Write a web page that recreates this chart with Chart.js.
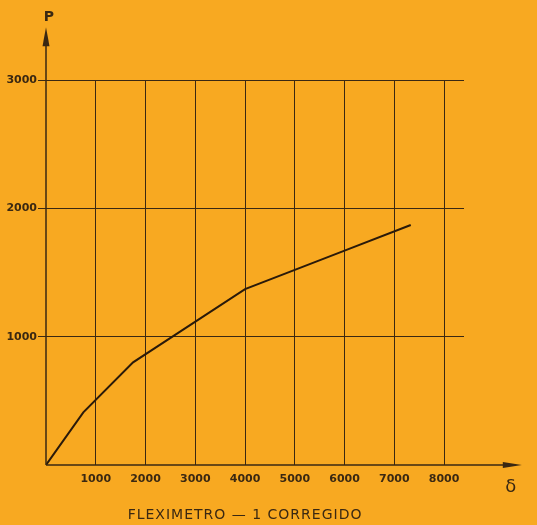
<!DOCTYPE html>
<html>
<head>
<meta charset="utf-8">
<script src="https://cdn.jsdelivr.net/npm/chart.js@4.4.1/dist/chart.umd.min.js"></script>
<style>
  html, body { margin: 0; padding: 0; background: #f8a921; }
  canvas { display: block; }
</style>
</head>
<body>
<canvas id="myChart" width="537" height="525"></canvas>
<script>
// datos
const deflexion = [0, 750, 1750, 4000, 5000, 6000, 7330];
const carga = [0, 410, 800, 1370, 1520, 1670, 1870];
const xTicks = [1000, 2000, 3000, 4000, 5000, 6000, 7000, 8000];
const yTicks = [1000, 2000, 3000];
const titulo = 'FLEXIMETRO — 1 CORREGIDO';

const ink = '#3a2812';
const fondo = '#f8a921';

// ejes con flechas, P, delta y titulo
const ejes = {
  id: 'ejes',
  beforeDraw(chart) {
    const c = chart.ctx;
    c.save();
    c.fillStyle = fondo;
    c.fillRect(0, 0, chart.width, chart.height);
    c.restore();
  },
  afterDraw(chart) {
    const c = chart.ctx;
    const x = chart.scales.x, y = chart.scales.y;
    const x0 = x.getPixelForValue(0), y0 = y.getPixelForValue(0);
    const xEnd = x.getPixelForValue(9200);
    const yEnd = y.getPixelForValue(3270);
    c.save();
    c.strokeStyle = ink;
    c.fillStyle = ink;
    c.lineWidth = 1.5;
    c.beginPath();
    c.moveTo(x0, y0);
    c.lineTo(x0, yEnd);
    c.moveTo(x0, y0);
    c.lineTo(xEnd, y0);
    c.stroke();
    // flecha vertical
    c.beginPath();
    c.moveTo(x0, yEnd - 18);
    c.lineTo(x0 + 3.5, yEnd + 1);
    c.lineTo(x0 - 3.5, yEnd + 1);
    c.closePath();
    c.fill();
    // flecha horizontal
    c.beginPath();
    c.moveTo(xEnd + 18, y0);
    c.lineTo(xEnd - 1, y0 - 3);
    c.lineTo(xEnd - 1, y0 + 3);
    c.closePath();
    c.fill();
    c.font = 'bold 14px "DejaVu Sans"';
    c.textAlign = 'center';
    c.textBaseline = 'middle';
    c.fillText('P', x0 + 3, yEnd - 28);
    c.font = '18px "DejaVu Sans"';
    c.fillText('δ', xEnd + 7, y0 + 22);
    // titulo
    c.font = '14px "DejaVu Sans"';
    c.letterSpacing = '1px';
    c.fillText(titulo, x.getPixelForValue(4000), y0 + 50);
    c.restore();
  }
};

const data = {
  datasets: [{
    label: 'P',
    data: deflexion.map((v, i) => ({ x: v, y: carga[i] })),
    borderColor: '#2a1a0a',
    borderWidth: 2,
    pointRadius: 0,
    tension: 0,
    fill: false
  }]
};

const config = {
  type: 'line',
  data,
  options: {
    responsive: false,
    animation: false,
    layout: { padding: { left: 0, right: 73, top: 80, bottom: 34 } },
    scales: {
      x: {
        type: 'linear',
        min: 0,
        max: 8400,
        afterBuildTicks: s => { s.ticks = xTicks.map(v => ({ value: v })); },
        afterFit: s => { s.height = 26; },
        grid: { color: ink, lineWidth: 1, drawTicks: false, tickLength: 0 },
        border: { display: false },
        ticks: {
          color: ink,
          padding: 8,
          maxRotation: 0,
          autoSkip: false,
          callback: v => String(v),
          font: { family: 'DejaVu Sans', size: 11, weight: 'bold' }
        }
      },
      y: {
        min: 0,
        max: 3000,
        afterBuildTicks: s => { s.ticks = yTicks.map(v => ({ value: v })); },
        afterFit: s => { s.width = 46; },
        grid: { color: ink, lineWidth: 1, drawTicks: true, tickLength: 8 },
        border: { display: false },
        ticks: {
          color: ink,
          padding: 1,
          callback: v => String(v),
          font: { family: 'DejaVu Sans', size: 11, weight: 'bold' }
        }
      }
    },
    plugins: {
      legend: { display: false },
      tooltip: { enabled: false },
      title: { display: false }
    }
  },
  plugins: [ejes]
};

const myChart = new Chart(document.getElementById('myChart'), config);
</script>
</body>
</html>
